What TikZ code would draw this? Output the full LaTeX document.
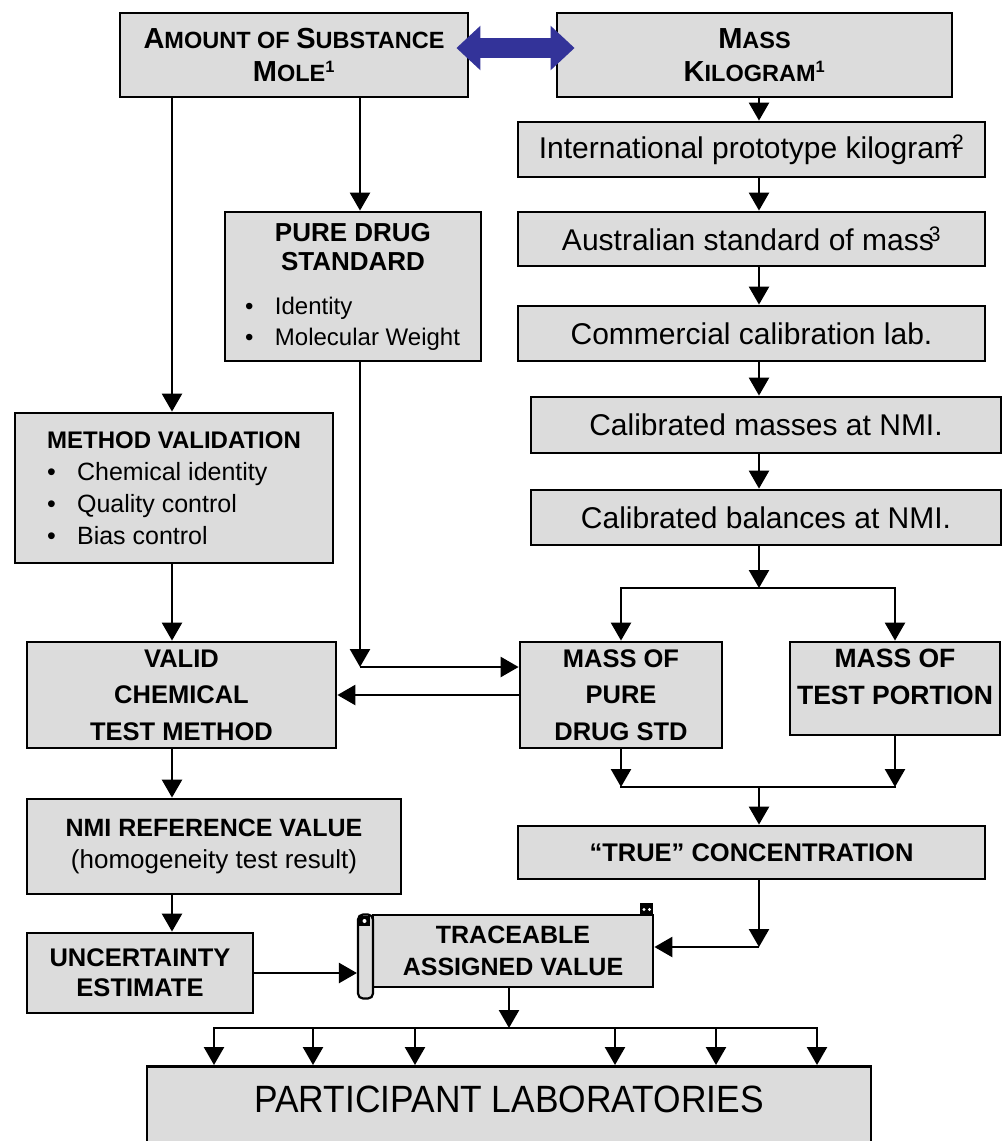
\documentclass[tikz,border=0pt]{standalone}
\usepackage{fontspec}
\setmainfont{Liberation Sans}
\newfontfamily\narrowfont{Liberation Sans}[FakeStretch=0.93]
\usetikzlibrary{arrows.meta,calc}
\definecolor{BoxClr}{RGB}{220,220,220}
\definecolor{BlueClr}{RGB}{51,51,153}
\newcommand{\SmCap}[2]{{\fontsize{29}{33}\selectfont #1}#2}
\newcommand{\Bul}{\makebox[30pt][l]{\textbullet}}
\newcommand{\HeadFont}{\bfseries\fontsize{26}{29}\selectfont}

\begin{document}
\begin{tikzpicture}[x=1pt,y=-1pt]
\tikzset{
  box/.style={draw,line width=2.8pt,fill=BoxClr,inner sep=0pt,align=center},
  massbox/.style={box,minimum width=467,minimum height=55,font=\fontsize{30}{34}\selectfont},
  unitbox/.style={box,minimum height=84,font=\fontsize{23.5}{33}\selectfont\bfseries},
  arr/.style={line width=2.5pt,-{Triangle[width=20pt,length=18pt]}},
  link/.style={line width=2.5pt,line cap=rect},
  unitarr/.style={line width=20pt,color=BlueClr,{Triangle[width=43pt,length=24pt]}-{Triangle[width=43pt,length=24pt]}}
}
\useasboundingbox (0,0) rectangle (1003,1141);
\clip (0,0) rectangle (1003,1141);

% The two base units.
\node[unitbox,minimum width=348] (amount) at (294,55)
  {\SmCap{A}{MOUNT OF} \SmCap{S}{UBSTANCE}\\\SmCap{M}{OLE}\textsuperscript{1}};
\node[unitbox,minimum width=395] (mass) at (754.5,55)
  {\SmCap{M}{ASS}\\\SmCap{K}{ILOGRAM}\textsuperscript{1}};

% The chain of mass standards.
\node[massbox] (proto) at (751.5,149.5) {International prototype kilogram\kern-7pt\textsuperscript{2}};
\node[massbox,minimum height=54] (austr) at (751.5,239) {Australian standard of mass\kern-5pt\textsuperscript{3}};
\node[massbox] (comm) at (751.5,333.5) {Commercial calibration lab.};
\node[massbox,minimum width=470,minimum height=56] (masses) at (766,425) {Calibrated masses at NMI.};
\node[massbox,minimum width=470] (balances) at (766,517.5) {Calibrated balances at NMI.};

% The left column.
\node[box,minimum width=256,minimum height=149,font=\fontsize{24}{31}\selectfont] (puredrug) at (353,286.5)
  {{\HeadFont PURE DRUG}\\[-2pt]
   {\HeadFont STANDARD}\\[13pt]
   \makebox[216pt][l]{\Bul Identity}\\
   \makebox[216pt][l]{\Bul Molecular Weight}};
\node[box,minimum width=318,minimum height=150,align=left,font=\fontsize{25}{32}\selectfont] (methval) at (174,488)
  {{\bfseries\fontsize{24}{32}\selectfont METHOD VALIDATION}\\
   \Bul Chemical identity\\
   \Bul Quality control\\
   \Bul Bias control};
\node[box,minimum width=309,minimum height=106,font=\fontsize{25.5}{36.5}\selectfont\bfseries] (valid) at (181.5,695)
  {VALID\\CHEMICAL\\TEST METHOD};
\node[box,minimum width=374,minimum height=95,font=\fontsize{26}{32}\selectfont] (nmiref) at (214,846.5)
  {{\bfseries\fontsize{25}{32}\selectfont NMI REFERENCE VALUE}\\(homogeneity test result)};
\node[box,minimum width=226,minimum height=80,font=\fontsize{25.5}{30}\selectfont\bfseries] (uncert) at (140,973)
  {UNCERTAINTY\\ESTIMATE};

% The weighings.
\node[box,minimum width=202,minimum height=106,font=\fontsize{25.5}{36.5}\selectfont\bfseries] (massdrug) at (621,695)
  {MASS OF\\PURE\\DRUG STD};
\node[box,minimum width=210,minimum height=93,font=\fontsize{26.5}{37}\selectfont\bfseries] (masstest) at (895,688.5)
  {\raisebox{10pt}[\height][\depth]{\begin{tabular}{@{}c@{}}MASS OF\\TEST PORTION\end{tabular}}};
\node[massbox,minimum height=53,font=\fontsize{25.5}{30}\selectfont\bfseries] (truec) at (751.5,852.5)
  {“TRUE” CONCENTRATION};

% The scroll with the assigned value.
\node[box,minimum width=280,minimum height=72,font=\fontsize{25}{32}\selectfont\bfseries] (assigned) at (513,951)
  {TRACEABLE\\ASSIGNED VALUE};
\node[box,line width=2.2pt,rounded corners=5pt,minimum width=15,minimum height=84] (roll) at (365.5,956.5) {};
\fill (359,916) rectangle (370,926);
\fill[white] (364.5,921) circle (2);
\fill (640,903) rectangle (653,916);
\fill[white] (644,909.5) circle (1.6) (649.5,909.5) circle (1.6);

% The receivers.
\node[box,minimum width=724,anchor=north,text height=46pt,text depth=54pt,font=\narrowfont\fontsize{38}{42}\selectfont] (labs) at (509,1065)
  {PARTICIPANT LABORATORIES};

% Connectors.
\coordinate (spine) at (759,0);
\coordinate (leftx) at (172,0);
\coordinate (drugx) at (360,0);
\coordinate (split) at (759,588);
\coordinate (join) at (759,787);
\coordinate (dcorner) at (360,667);
\coordinate (tcorner) at (759,947);
\coordinate (fan) at (509,1028);
\coordinate (fanL) at (214,1028);
\coordinate (fanR) at (817,1028);

\draw[unitarr] ([shift={(-13,-7)}]amount.east) -- ([shift={(19,-7)}]mass.west);

\foreach \a/\b in {mass/proto,proto/austr,austr/comm,comm/masses,masses/balances}
  \draw[arr] (\a.south -| spine) -- (\b.north -| spine);
\foreach \a/\b in {amount/methval,methval/valid,valid/nmiref,nmiref/uncert}
  \draw[arr] (\a.south -| leftx) -- (\b.north -| leftx);

\draw[arr] (amount.south -| drugx) -- (puredrug.north -| drugx);
\draw[arr] (puredrug.south -| drugx) -- (dcorner);
\draw[arr] (dcorner) -- (dcorner -| massdrug.west);
\draw[arr] (massdrug.west) -- (valid.east);

\draw[arr] (balances.south -| spine) -- (split);
\draw[arr] (split) -| (massdrug.north);
\draw[arr] (split) -| (masstest.north);

\draw[arr] (massdrug.south) -- (massdrug.south |- join);
\draw[arr] (masstest.south) -- (masstest.south |- join);
\draw[link] (massdrug.south |- join) -- (masstest.south |- join);
\draw[arr] (join) -- (truec.north -| join);

\draw[arr] (truec.south -| spine) -- (tcorner);
\draw[arr] (tcorner) -- (tcorner -| assigned.east);
\draw[arr] (uncert.east) -- (uncert.east -| roll.west);

\draw[arr] (assigned.south -| fan) -- (fan);
\draw[link] (fanL) -- (fanR);
\foreach \x in {214,313,415,615,716,817}
  \draw[arr] (\x,1028) -- (\x,1028 |- labs.north);

\end{tikzpicture}
\end{document}
